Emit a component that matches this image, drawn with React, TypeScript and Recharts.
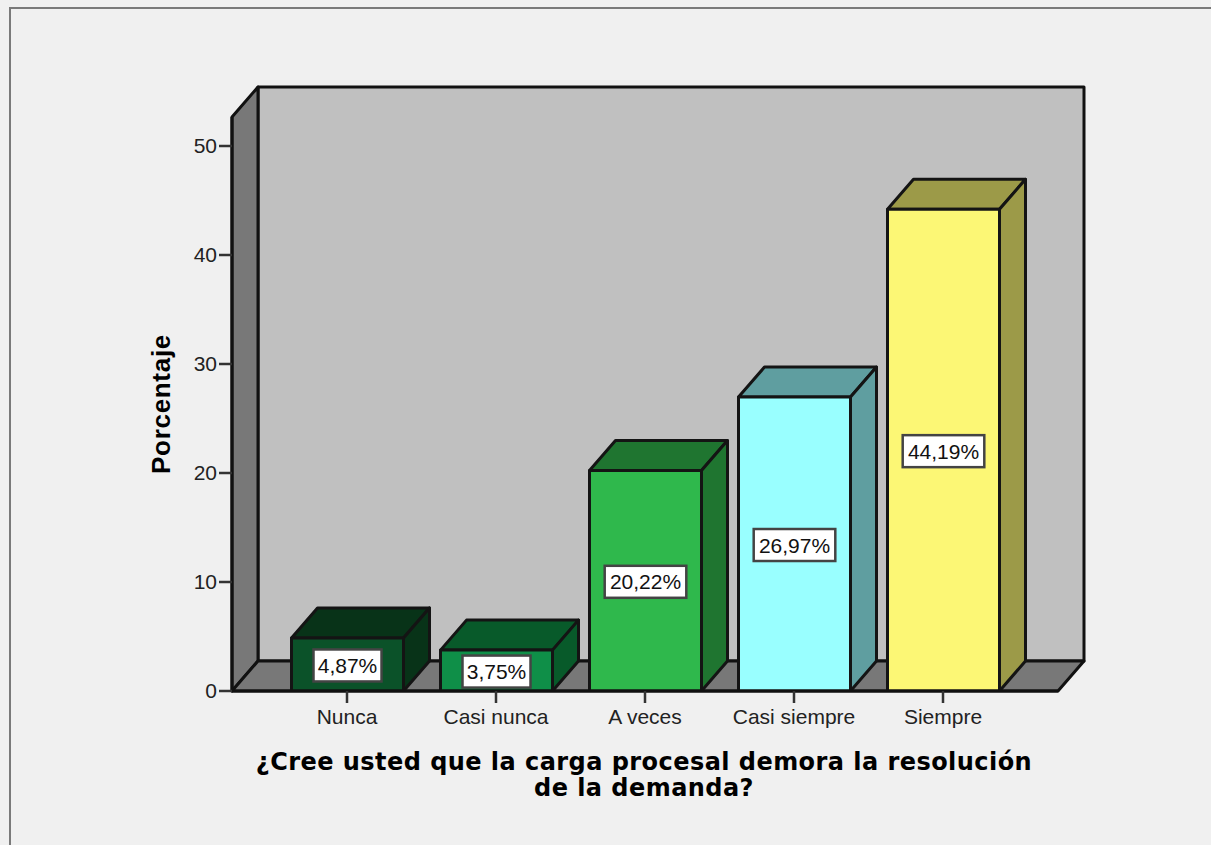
import { Bar, BarChart, Customized, LabelList, XAxis, YAxis, usePlotArea } from "recharts";

const categories = ["Nunca", "Casi nunca", "A veces", "Casi siempre", "Siempre"];
const percentages = [4.87, 3.75, 20.22, 26.97, 44.19];
const yTicks = [0, 10, 20, 30, 40, 50];
const xTitleLines = ["¿Cree usted que la carga procesal demora la resolución", "de la demanda?"];
const yTitle = "Porcentaje";

const frontColors = ["#0b5229", "#0f8f48", "#2fb84c", "#99ffff", "#fcf775"];
const sideColors = ["#083318", "#085a2a", "#1f7530", "#5f9ea0", "#9c9a48"];

const data = categories.map((name, i) => ({
  name,
  value: percentages[i],
  front: frontColors[i],
  side: sideColors[i],
}));

// fake 3D depth of the SPSS style chart
const DX = 26;
const DY = 30;
const EDGE = "#141414";
const SANS = "'Liberation Sans', Arial, sans-serif";

function Walls() {
  const plot = usePlotArea();
  if (!plot) return null;
  const l = plot.x;
  const t = plot.y;
  const r = plot.x + plot.width;
  const b = plot.y + plot.height;
  return (
    <g stroke="#111" strokeWidth={3} strokeLinejoin="round">
      <polygon points={`${l + DX},${t - DY} ${r + DX},${t - DY} ${r + DX},${b - DY} ${l + DX},${b - DY}`} fill="#c0c0c0" />
      <polygon points={`${l},${t} ${l + DX},${t - DY} ${l + DX},${b - DY} ${l},${b}`} fill="#787878" />
      <polygon points={`${l},${b} ${l + DX},${b - DY} ${r + DX},${b - DY} ${r},${b}`} fill="#787878" />
    </g>
  );
}

function Titles() {
  const plot = usePlotArea();
  if (!plot) return null;
  const bottom = plot.y + plot.height;
  return (
    <g fill="#000" fontFamily="'DejaVu Sans', Verdana, sans-serif" fontWeight="bold" fontSize={24}>
      {xTitleLines.map((line, i) => (
        <text key={line} x={644} y={bottom + 79 + i * 26} textAnchor="middle" letterSpacing={0.45}>
          {line}
        </text>
      ))}
      <text
        transform={`translate(170, 404) rotate(-90)`}
        textAnchor="middle"
        fontFamily={SANS}
        fontSize={26}
        letterSpacing={0.7}
      >
        {yTitle}
      </text>
    </g>
  );
}

function Box3D(props: any) {
  const { x, y, width, height, payload } = props;
  const right = x + width;
  const bottom = y + height;
  return (
    <g stroke={EDGE} strokeWidth={3} strokeLinejoin="round">
      <polygon points={`${x},${y} ${x + DX},${y - DY} ${right + DX},${y - DY} ${right},${y}`} fill={payload.side} />
      <polygon points={`${right},${y} ${right + DX},${y - DY} ${right + DX},${bottom - DY} ${right},${bottom}`} fill={payload.side} />
      <rect x={x} y={y} width={width} height={height} fill={payload.front} />
    </g>
  );
}

function ValueBox(props: any) {
  const { x, y, width, height, value } = props;
  const text = Number(value).toFixed(2).replace(".", ",") + "%";
  const w = text.length * 13.6;
  const cx = x + width / 2;
  const cy = y + height / 2 + 1;
  return (
    <g>
      <rect x={cx - w / 2} y={cy - 16} width={w} height={32} fill="#fff" stroke="#444" strokeWidth={2.5} />
      <text x={cx} y={cy + 7.5} textAnchor="middle" fontFamily={SANS} fontSize={21} fill="#111">
        {text}
      </text>
    </g>
  );
}

export default function App() {
  return (
    <div style={{ position: "absolute", left: 0, top: 0, width: 1211, height: 845, overflow: "hidden", background: "#f0f0f0" }}>
      <div style={{ position: "absolute", left: 9, top: 7, width: 1400, height: 1000, border: "2.5px solid #7a7a7a" }} />
      <div style={{ position: "absolute", left: 0, top: 0 }}>
        <BarChart
          width={1211}
          height={845}
          data={data}
          barSize={112}
          margin={{ top: 117, left: 172, right: 153, bottom: 94 }}
        >
          <Customized component={Walls} />
          <XAxis
            dataKey="name"
            height={60}
            padding={{ left: 40.5, right: 40.5 }}
            tickSize={12}
            tickMargin={6}
            interval={0}
            tick={{ fill: "#222", fontSize: 21, fontFamily: SANS }}
            axisLine={{ stroke: "#111", strokeWidth: 3 }}
            tickLine={{ stroke: "#333", strokeWidth: 2.5 }}
          />
          <YAxis
            width={60}
            domain={[0, 52.66]}
            ticks={yTicks}
            allowDataOverflow
            tickSize={13}
            tickMargin={2}
            tick={{ fill: "#222", fontSize: 21, fontFamily: SANS }}
            axisLine={{ stroke: "#111", strokeWidth: 3 }}
            tickLine={{ stroke: "#333", strokeWidth: 2.5 }}
          />
          <Bar dataKey="value" shape={Box3D} isAnimationActive={false}>
            <LabelList dataKey="value" content={ValueBox} />
          </Bar>
          <Customized component={Titles} />
        </BarChart>
      </div>
    </div>
  );
}
